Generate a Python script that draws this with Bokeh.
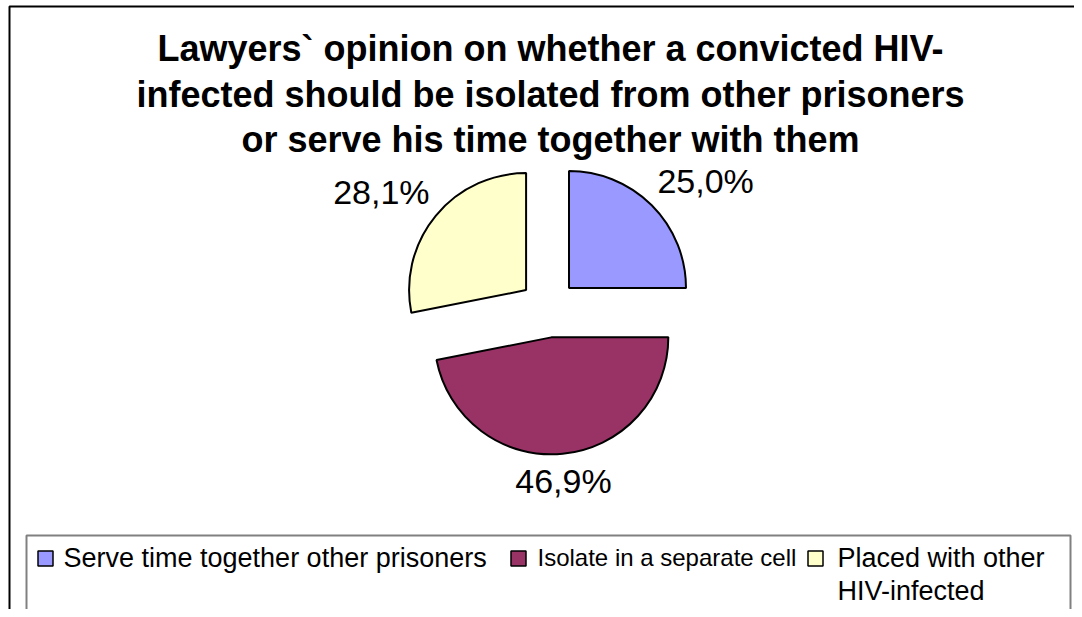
import math
from bokeh.plotting import figure
from bokeh.models import Range1d
from bokeh.core.properties import value
from bokeh.embed import file_html
from bokeh.resources import INLINE

# ---------------- data ----------------
title_text = "Lawyers` opinion on whether a convicted HIV-\ninfected should be isolated from other prisoners\nor serve his time together with them"
categories = ["Serve time together other prisoners",
              "Isolate in a separate cell",
              "Placed  with other\nHIV-infected"]
shares = [25.0, 46.9, 28.1]
label_texts = ["25,0%", "46,9%", "28,1%"]
colors = ["#9999FF", "#993366", "#FFFFCC"]

# ---------------- layout (pixels, y measured from the top) ----------------
W, H = 1074, 609


def Y(py):
    return H - py


cx, cy = 548, Y(308)       # pie centre
R = 117                    # radius
EXPLODE = 29               # explosion distance
LABEL_GAP = 8
title_x = 550
title_middles = [48, 94, 139]
legend_left, legend_right, legend_top = 26, 1070, 535
legend_marker_x = [45, 518, 815]
legend_text_x = [63, 537, 837]
legend_marker_y = 558
legend_middle = 557
legend_line_pitch = 33
legend_sizes = ["27px", "24px", "27px"]

p = figure(width=W, height=H, output_backend="svg", toolbar_location=None,
           x_range=Range1d(0, W), y_range=Range1d(0, H), min_border=0,
           tools="")
p.axis.visible = False
p.grid.visible = False
p.outline_line_color = None
p.background_fill_color = "white"
p.border_fill_color = "white"

# outer frame (left and top edges; the rest lies beyond the picture)
p.line([9, 9, W + 20], [-10, Y(6), Y(6)], line_color="black", line_width=2)

# title
for i, line in enumerate(title_text.split("\n")):
    p.text([title_x], [Y(title_middles[i])], text=[line], text_font=value("Liberation Sans"),
           text_font_style="bold", text_font_size="36px", text_align="center",
           text_baseline="middle", text_color="black")

# pie
total = sum(shares)
cum = 0.0
for share, lab, col in zip(shares, label_texts, colors):
    a0 = 90 - (cum + share) / total * 360
    a1 = 90 - cum / total * 360
    cum += share
    mid = math.radians((a0 + a1) / 2)
    ox = cx + EXPLODE * math.cos(mid)
    oy = cy + EXPLODE * math.sin(mid)
    p.wedge(x=[ox], y=[oy], radius=R, start_angle=math.radians(a0), end_angle=math.radians(a1),
            direction="anticlock", fill_color=col, line_color="black", line_width=2)
    ax = ox + (R + LABEL_GAP) * math.cos(mid)
    ay = oy + (R + LABEL_GAP) * math.sin(mid)
    c, s = math.cos(mid), math.sin(mid)
    align = "left" if c > 0.3 else ("right" if c < -0.3 else "center")
    base = "bottom" if s > 0.3 else ("top" if s < -0.3 else "middle")
    p.text([ax], [ay], text=[lab], text_font=value("Liberation Sans"), text_font_size="34px",
           text_align=align, text_baseline=base, text_color="black")

# legend box (bottom edge lies beyond the picture)
p.line([legend_left, legend_left, legend_right, legend_right],
       [-10, Y(legend_top), Y(legend_top), -10], line_color="#808080", line_width=2)

for i, (cat, col) in enumerate(zip(categories, colors)):
    p.scatter([legend_marker_x[i]], [Y(legend_marker_y)], marker="square", size=15,
              fill_color=col, line_color="black", line_width=1.5)
    for j, line in enumerate(cat.split("\n")):
        p.text([legend_text_x[i]], [Y(legend_middle + j * legend_line_pitch)], text=[line],
               text_font=value("Liberation Sans"), text_font_size=legend_sizes[i],
               text_align="left", text_baseline="middle", text_color="black")

open("out.html", "w").write(file_html(p, INLINE))
